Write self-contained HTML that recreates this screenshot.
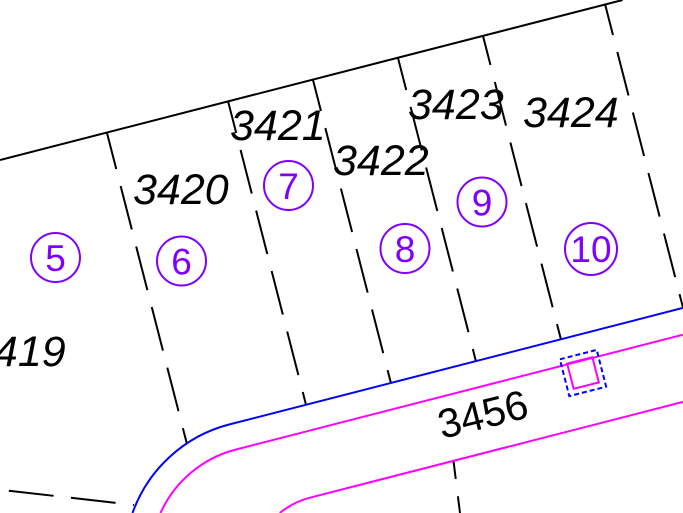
<!DOCTYPE html>
<html>
<head>
<meta charset="utf-8">
<style>
  html, body { margin: 0; padding: 0; background: #fff; width: 683px; height: 513px; overflow: hidden; }
  svg { display: block; overflow: hidden; }
  .lbl { font-family: "Liberation Sans", sans-serif; font-style: italic; font-size: 43px; fill: #000; }
  .num { font-family: "Liberation Sans", sans-serif; font-size: 37px; fill: #7f00ff; text-anchor: middle; }
  .road { font-family: "Liberation Sans", sans-serif; font-size: 41px; fill: #000; }
</style>
</head>
<body>
<svg width="683" height="513" viewBox="0 0 683 513" xmlns="http://www.w3.org/2000/svg">
  <rect width="683" height="513" fill="#fff"/>

  <g fill="none" stroke-linecap="butt">
    <!-- top boundary -->
    <path d="M0,160 L622.6,0" stroke="#000" stroke-width="2"/>

    <!-- lot dividing lines (dashed) -->
    <g stroke="#000" stroke-width="2" stroke-dasharray="45 17.5">
      <path d="M107,133 L186.7,443" stroke-dashoffset="7.8"/>
      <path d="M228,101 L306,404.8" stroke-dashoffset="12"/>
      <path d="M313,80 L390.9,383" stroke-dashoffset="13"/>
      <path d="M398,58 L475.9,361.1" stroke-dashoffset="12"/>
      <path d="M483,36 L560.9,339.3" stroke-dashoffset="15"/>
      <path d="M605,4 L683,307.6" stroke-dashoffset="13"/>
      <!-- bottom left dashed -->
      <path d="M134,505 L0,489.7" stroke-dashoffset="44"/>
      <!-- dashed across bottom -->
      <path d="M453.5,461 L460,513" stroke-dashoffset="27"/>
    </g>

    <!-- blue road edge -->
    <path d="M683,307.9 L229.5,424.4 A140,140 0 0 0 132.5,513" stroke="#0000ff" stroke-width="2"/>

    <!-- magenta lines -->
    <path d="M683,334.7 L236,449.5 A114,114 0 0 0 160.5,513" stroke="#ff00ff" stroke-width="2"/>
    <path d="M683,401.9 L310,497.7 A78,78 0 0 0 279.8,513" stroke="#ff00ff" stroke-width="2"/>

    <!-- small squares -->
    <g transform="translate(583,373) rotate(-14.4)">
      <rect x="-19" y="-19" width="38" height="38" stroke="#0000ff" stroke-width="2" stroke-dasharray="5 3"/>
      <rect x="-13" y="-13" width="26" height="26" stroke="#ff00ff" stroke-width="2"/>
    </g>

    <!-- purple circles -->
    <g stroke="#7f00ff" stroke-width="2">
      <circle cx="55.5" cy="257.5" r="24.5"/>
      <circle cx="181.5" cy="261" r="24.5"/>
      <circle cx="288.5" cy="185.5" r="24.5"/>
      <circle cx="405" cy="248.5" r="24.5"/>
      <circle cx="482" cy="202" r="24.5"/>
      <circle cx="591" cy="249" r="26"/>
    </g>
  </g>

  <!-- circle numbers -->
  <text class="num" x="55.5" y="271">5</text>
  <text class="num" x="181.5" y="274.5">6</text>
  <text class="num" x="288.5" y="199">7</text>
  <text class="num" x="405" y="262">8</text>
  <text class="num" x="482" y="215.5">9</text>
  <text class="num" x="591" y="262">10</text>

  <!-- lot labels -->
  <text class="lbl" x="133" y="204">3420</text>
  <text class="lbl" x="230" y="140">3421</text>
  <text class="lbl" x="333" y="175">3422</text>
  <text class="lbl" x="408" y="119">3423</text>
  <text class="lbl" x="523" y="127">3424</text>
  <text class="lbl" x="-30" y="366">3419</text>

  <!-- road label -->
  <text class="road" transform="translate(442,439) rotate(-14)" x="0" y="0">3456</text>
</svg>
</body>
</html>
